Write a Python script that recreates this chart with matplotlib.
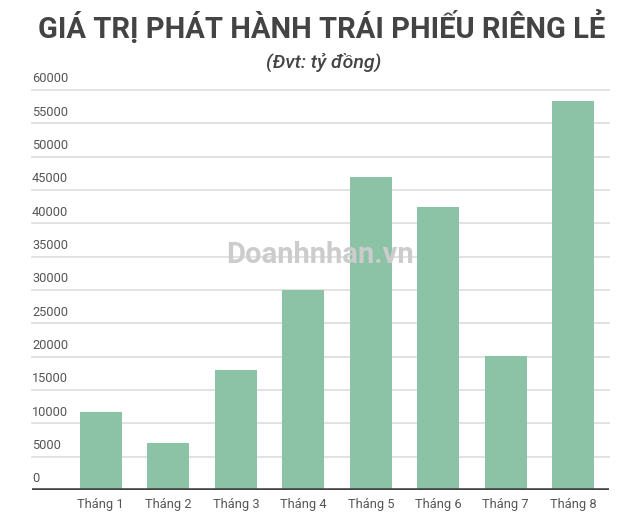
import matplotlib.pyplot as plt
import matplotlib.transforms as mtransforms

months = ["Tháng 1", "Tháng 2", "Tháng 3", "Tháng 4",
          "Tháng 5", "Tháng 6", "Tháng 7", "Tháng 8"]
values = [11700, 7000, 18000, 30000, 47000, 42500, 20100, 58300]
y_ticks = [0, 5000, 10000, 15000, 20000, 25000, 30000,
           35000, 40000, 45000, 50000, 55000, 60000]

plt.rcParams["font.family"] = ["Roboto", "DejaVu Sans"]

fig = plt.figure(figsize=(6.4, 5.18), dpi=100)
ax = fig.add_axes([0.05, 0.054, 0.9016, 0.772])

x = list(range(len(months)))
ax.bar(x, values, width=0.62, color="#8cc3a7", zorder=2)

ax.set_xlim(-1.02, 7.53)
ax.set_ylim(0, 60000)

# light grid lines, dark zero line
for v in y_ticks[1:]:
    ax.axhline(v, color="#dddddd", linewidth=1.2, zorder=1, clip_on=False)
ax.axhline(0, color="#444444", linewidth=2.6, zorder=3)

# y labels sit above each grid line at the left edge
trans = mtransforms.blended_transform_factory(ax.transAxes, ax.transData)
for v in y_ticks:
    ax.text(0.0, v + 700, str(v), transform=trans, ha="left", va="bottom",
            fontsize=9.2, color="#555555")

ax.set_xticks(x)
ax.set_xticklabels(months, fontsize=9.3, color="#555555")
ax.tick_params(axis="x", length=0, pad=6)
ax.set_yticks([])
for s in ax.spines.values():
    s.set_visible(False)

fig.text(0.502, 0.948, "GIÁ TRỊ PHÁT HÀNH TRÁI PHIẾU RIÊNG LẺ",
         ha="center", va="center", fontsize=21, fontweight="bold",
         color="#444444", family=["Liberation Sans Narrow", "Roboto"])
fig.text(0.506, 0.88, "(Đvt: tỷ đồng)", ha="center", va="center",
         fontsize=14, fontstyle="italic", fontweight="medium", color="#444444")

# watermark
fig.text(0.5, 0.507, "Doanhnhan.vn", ha="center", va="center",
         fontsize=21, fontweight="bold", color="#cccccc", zorder=5,
         family=["Liberation Sans Narrow", "Roboto"])

fig.savefig("out.png", dpi=100)
